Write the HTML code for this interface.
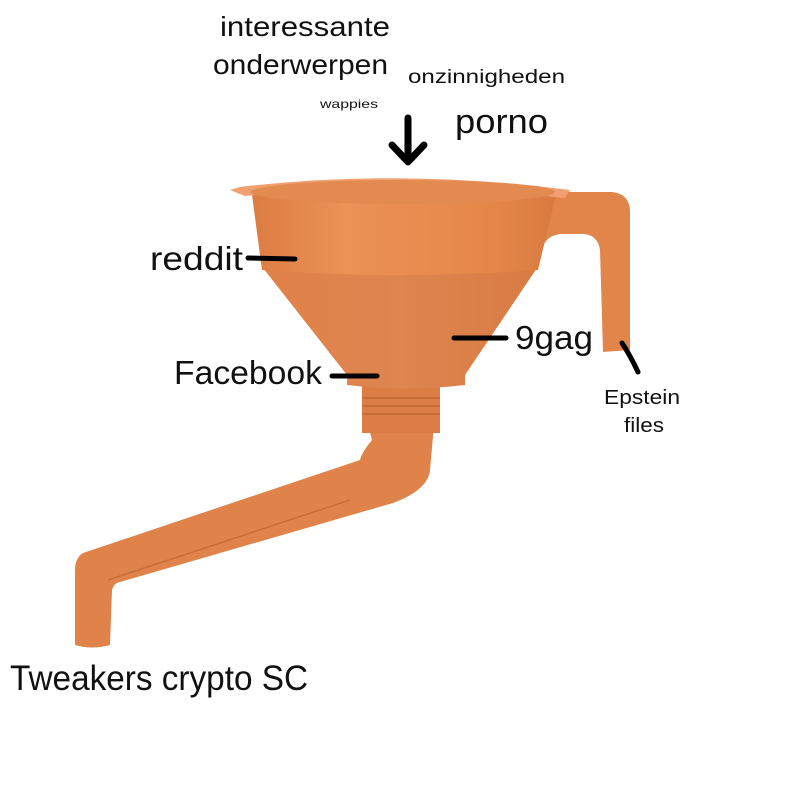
<!DOCTYPE html>
<html><head><meta charset="utf-8"><style>
body{margin:0;background:#fff;}
svg{display:block}
text{font-family:"Liberation Sans","DejaVu Sans",sans-serif;fill:#111}
</style></head><body>
<svg width="800" height="800" viewBox="0 0 800 800">
<defs>
<linearGradient id="cyl" x1="0" x2="1" y1="0" y2="0">
<stop offset="0" stop-color="#dc7c42"/><stop offset="0.3" stop-color="#eb9257"/><stop offset="0.5" stop-color="#e98d52"/><stop offset="0.8" stop-color="#e48748"/><stop offset="1" stop-color="#d87a40"/>
</linearGradient>
<linearGradient id="cone" x1="0" x2="1" y1="0" y2="0">
<stop offset="0" stop-color="#e08248"/><stop offset="0.5" stop-color="#de8550"/><stop offset="1" stop-color="#d97b43"/>
</linearGradient>
</defs>
<!-- handle -->
<path d="M540 192 L612 192 Q630 194 630 212 L630 350 L603 352 L600 250 Q598 236 585 234 L560 234 Q545 236 542 250 Z" fill="#e2854a"/>
<!-- tube -->
<path d="M368 425 L372 440 Q362 452 360 460 L83 553 Q75 558 75 570 L75 645 Q92 650 110 645 L112 590 Q114 583 120 582 L393 503 Q428 490 430 470 L434 425 Z" fill="#e0834a"/>
<path d="M108 580 L350 500" stroke="#c86d38" stroke-width="1.5" fill="none"/>
<!-- neck -->
<rect x="362" y="383" width="78" height="50" fill="#db7d44"/>
<g stroke="#c06a35" stroke-width="1.5"><line x1="362" y1="398" x2="440" y2="398"/><line x1="362" y1="406" x2="440" y2="406"/><line x1="362" y1="414" x2="440" y2="414"/></g>
<!-- cone -->
<path d="M263 268 L537 268 L465 375 L465 385 Q405 392 347 385 L347 375 Z" fill="url(#cone)"/>
<!-- cylinder -->
<path d="M252 195 L556 195 L538 270 Q400 280 262 270 Z" fill="url(#cyl)"/>
<!-- rim -->
<path d="M230 190 L240 187 Q400 168 570 190 L565 198 Q400 180 245 196 Z" fill="#f0a070"/>
<ellipse cx="403" cy="192" rx="152" ry="12" fill="#e38a50"/>
<!-- arrow -->
<path d="M408 118 L408 160 M392 145 L408 162 L424 145" stroke="#000" stroke-width="7" fill="none" stroke-linecap="round" stroke-linejoin="round"/>
<!-- lines -->
<g stroke="#000" stroke-width="5" stroke-linecap="round">
<line x1="248" y1="258" x2="295" y2="259"/>
<line x1="454" y1="338" x2="506" y2="338"/>
<line x1="332" y1="376" x2="377" y2="376"/>
<path d="M622 343 Q630 355 638 372" fill="none"/>
</g>
<text x="220" y="36" font-size="28" textLength="170" lengthAdjust="spacingAndGlyphs">interessante</text>
<text x="213" y="74" font-size="28" textLength="175" lengthAdjust="spacingAndGlyphs">onderwerpen</text>
<text x="408" y="83" font-size="19" textLength="157" lengthAdjust="spacingAndGlyphs">onzinnigheden</text>
<text x="320" y="108" font-size="12" textLength="58" lengthAdjust="spacingAndGlyphs">wappies</text>
<text x="455" y="133" font-size="34" textLength="93" lengthAdjust="spacingAndGlyphs">porno</text>
<text x="150" y="270" font-size="33" textLength="93" lengthAdjust="spacingAndGlyphs">reddit</text>
<text x="515" y="349" font-size="33" textLength="78" lengthAdjust="spacingAndGlyphs">9gag</text>
<text x="174" y="384" font-size="33" textLength="148" lengthAdjust="spacingAndGlyphs">Facebook</text>
<text x="604" y="404" font-size="20" textLength="76" lengthAdjust="spacingAndGlyphs">Epstein</text>
<text x="624" y="432" font-size="20" textLength="40" lengthAdjust="spacingAndGlyphs">files</text>
<text x="10" y="690" font-size="35" textLength="298" lengthAdjust="spacingAndGlyphs">Tweakers crypto SC</text>
</svg>
</body></html>
